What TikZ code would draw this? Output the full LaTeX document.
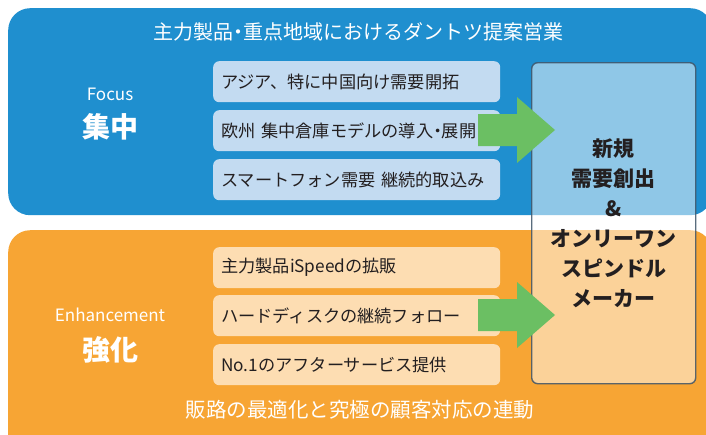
\documentclass[tikz,border=0pt]{standalone}
\usepackage{fontspec}
\setmainfont{Noto Sans CJK JP}
\newcommand{\nkg}{{\addfontfeature{RawFeature=+palt}・}}
\definecolor{bluebg}{HTML}{1F8FCF}
\definecolor{blueinner}{HTML}{C3DBF1}
\definecolor{orangebg}{HTML}{F7A534}
\definecolor{orangeinner}{HTML}{FDDDB2}
\definecolor{arrowgreen}{HTML}{6BBF63}
\definecolor{textdark}{HTML}{231F20}
\definecolor{rightborder}{HTML}{3E5468}
\begin{document}
\begin{tikzpicture}[x=1pt,y=-1pt,
  area/.style={anchor=north west, rounded corners=22pt, inner sep=0pt, draw=none},
  itembox/.style={anchor=north west, rounded corners=6pt, minimum width=287pt, minimum height=41pt,
    text width=271pt, inner xsep=8pt, inner ysep=0pt, align=left, text=textdark,
    font=\fontsize{17.2}{20}\selectfont},
  headline/.style={text=white, font=\fontsize{20}{22}\selectfont},
  engl/.style={text=white, font=\fontsize{17}{20}\selectfont},
  kanji/.style={text=white, font=\fontsize{28}{32}\selectfont\bfseries},
  bigarrow/.style={fill=arrowgreen}
]
\useasboundingbox (0,0) rectangle (706,434);
\clip (0,0) rectangle (706,434);
\fill[white] (0,0) rectangle (706,434);

% areas
\node[area, fill=bluebg, minimum width=704pt, minimum height=207pt] (focusarea) at (8,8) {};
\node[area, fill=orangebg, minimum width=704pt, minimum height=230pt] (enharea) at (8,230) {};

% headlines
\node[headline] (title) at (358,32) {主力製品\nkg 重点地域におけるダントツ提案営業};
\node[headline, font=\fontsize{20.5}{22}\selectfont] (bottom) at (360,410) {販路の最適化と究極の顧客対応の連動};

% left labels
\node[engl] (focus) at (110,94) {Focus};
\node[kanji] (shuchu) at (110,127) {集中};
\node[engl] (enh) at (110,315) {Enhancement};
\node[kanji] (kyoka) at (110,350) {強化};

% focus items
\node[itembox, fill=blueinner] (f1) at (213,61) {アジア、特に中国向け需要開拓};
\node[itembox, fill=blueinner] (f2) at (213,110) {欧州 集中倉庫モデルの導入\nkg 展開};
\node[itembox, fill=blueinner] (f3) at (213,159) {スマートフォン需要 継続的取込み};

% enhancement items
\node[itembox, fill=orangeinner] (e1) at (213,247) {主力製品iSpeedの拡販};
\node[itembox, fill=orangeinner] (e2) at (213,295) {ハードディスクの継続フォロー};
\node[itembox, fill=orangeinner] (e3) at (213,344) {No.1のアフターサービス提供};

% right box
\node[anchor=north west, minimum width=164pt, minimum height=321pt, rounded corners=6pt,
  fill=white, fill opacity=0.5, text opacity=1, draw=rightborder, draw opacity=0.85, line width=1.4pt,
  align=center, text=textdark, font=\fontsize{21}{30}\selectfont\bfseries] (goal) at (531,62)
  {新規\\需要創出\\\&\\オンリーワン\\スピンドル\\メーカー};

% arrows
\fill[bigarrow] (478,114) -- (517,114) -- (517,97) -- (555,130) -- (517,163) -- (517,146) -- (478,146) -- cycle;
\fill[bigarrow] (478,299) -- (517,299) -- (517,282) -- (555,315) -- (517,348) -- (517,331) -- (478,331) -- cycle;
\end{tikzpicture}
\end{document}
